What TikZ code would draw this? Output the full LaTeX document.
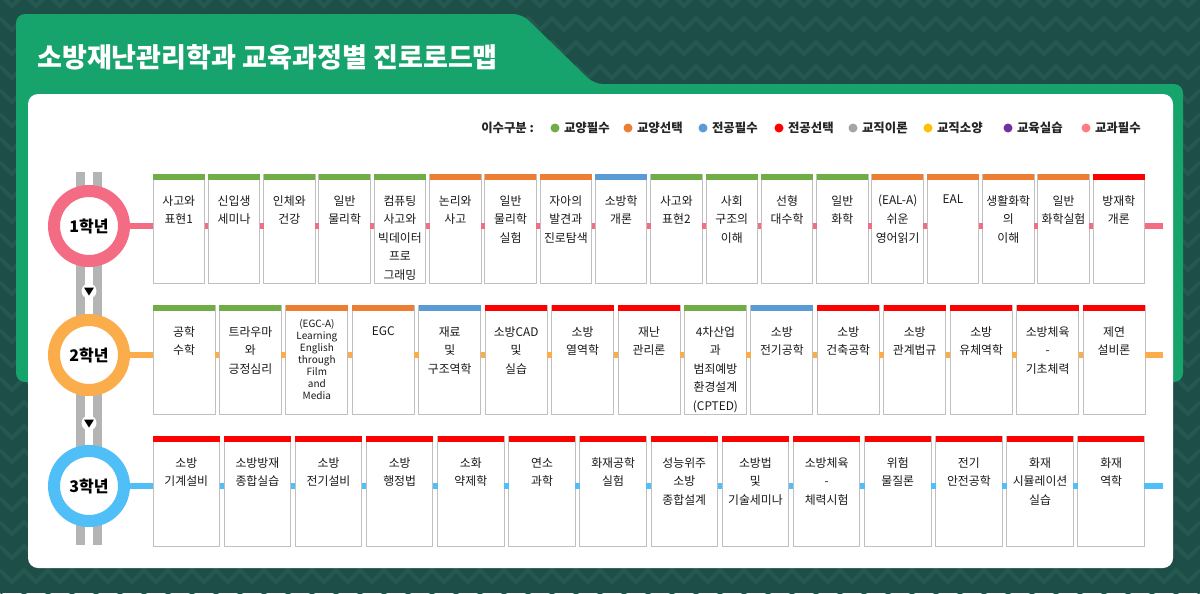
\documentclass[tikz,border=0pt]{standalone}
\usepackage{fontspec}
\setmainfont{Noto Sans CJK KR}
\usetikzlibrary{positioning}
\definecolor{bgteal}{RGB}{30,78,72}
\definecolor{bgline}{RGB}{36,88,80}
\definecolor{titlegreen}{RGB}{23,163,108}
\definecolor{yearpink}{RGB}{244,108,132}
\definecolor{yearorange}{RGB}{251,173,76}
\definecolor{yearblue}{RGB}{80,191,248}
\definecolor{railgray}{RGB}{180,180,180}
\definecolor{boxgray}{RGB}{192,192,192}
\definecolor{cgreen}{RGB}{112,173,71}
\definecolor{corange}{RGB}{237,125,49}
\definecolor{cblue}{RGB}{91,155,213}
\definecolor{cred}{RGB}{255,0,0}
\definecolor{cgray}{RGB}{165,165,165}
\definecolor{cyellow}{RGB}{255,192,0}
\definecolor{cpurple}{RGB}{112,48,160}
\definecolor{cpink}{RGB}{255,124,128}
\newcommand{\upx}{0.75pt}
\tikzset{
  coursebox/.style={draw=boxgray, line width=1*\upx, fill=white, anchor=north west,
                    inner sep=0pt, outer sep=0pt},
  coursetext/.style={anchor=north, align=center, inner sep=0pt, text=black!90,
                     font=\fontsize{8.9}{13.9}\selectfont},
  egctext/.style={coursetext, yshift=7*\upx, font=\fontsize{7.5}{9}\selectfont},
  yearring/.style={circle, draw=#1, line width=12*\upx, fill=white, minimum size=70*\upx,
                   inner sep=0pt, font=\bfseries\fontsize{12}{13}\selectfont},
  yearline/.style={#1, line width=6*\upx},
  legenddot/.style={circle, fill=#1, minimum size=9*\upx, inner sep=0pt},
  legendtext/.style={inner sep=0pt, text=black!85, font=\bfseries\fontsize{9.3}{11}\selectfont},
}
\begin{document}
\begin{tikzpicture}[x=0.75pt, y=-0.75pt]
  \useasboundingbox (0,0) rectangle (1200,593);
  \clip (0,0) rectangle (1200,593);

  % background and frame
  \fill[bgteal] (0,0) rectangle (1200,593);
  \foreach \r in {0,...,25}
    \draw[bgline, line width=4*\upx] (0,{\r*24-6})
      \foreach \k in {1,...,50} { -- ({24*\k-12},{\r*24+6}) -- ({24*\k},{\r*24-6}) };
  \fill[titlegreen, rounded corners=9*\upx] (16,382) -- (16,14) -- (522,14) -- (594,84)
    -- (1183,84) -- (1183,382) -- cycle;
  \fill[white, rounded corners=10*\upx] (28,94) rectangle (1173,568);
  \node[anchor=west, inner sep=0pt, text=white, font=\bfseries\fontsize{20.3}{22}\selectfont]
    (title) at (37,57) {소방재난관리학과 교육과정별 진로로드맵};

  % legend
  \node[legendtext, anchor=west] (lgd) at (481,128) {이수구분 :};
  \foreach \x/\c/\t in {555/cgreen/교양필수, 628/corange/교양선택, 703/cblue/전공필수,
                        779/cred/전공선택, 853/cgray/교직이론, 928/cyellow/교직소양,
                        1008/cpurple/교육실습, 1086/cpink/교과필수} {
    \node[legenddot=\c] (d\c) at (\x,128) {};
    \node[legendtext, right=4*\upx of d\c] {\t};
  }

  % rails and years
  \fill[railgray] (76,172) rectangle (85,545);
  \fill[railgray] (93,172) rectangle (102,545);
  \node[yearring=yearpink] (y1) at (89,226) {1학년};
  \node[yearring=yearorange] (y2) at (89,355) {2학년};
  \node[yearring=yearblue] (y3) at (89,486) {3학년};
  \foreach \m/\y in {m1/291, m2/423} {
    \node[circle, fill=white, minimum size=15*\upx, inner sep=0pt] (\m) at (89,\y) {};
    \fill[black] ([xshift=-5*\upx, yshift=3.5*\upx]\m.center) -- ([xshift=5*\upx, yshift=3.5*\upx]\m.center)
      -- ([yshift=-4.5*\upx]\m.center) -- cycle;
  }

  % 1st year
  \foreach [count=\i] \c/\f/\t in {cgreen/coursetext/{사고와\\표현1}, cgreen/coursetext/{신입생\\세미나},
      cgreen/coursetext/{인체와\\건강}, cgreen/coursetext/{일반\\물리학},
      cgreen/coursetext/{컴퓨팅\\사고와\\빅데이터\\프로\\그래밍}, corange/coursetext/{논리와\\사고},
      corange/coursetext/{일반\\물리학\\실험}, corange/coursetext/{자아의\\발견과\\진로탐색},
      cblue/coursetext/{소방학\\개론}, cgreen/coursetext/{사고와\\표현2},
      cgreen/coursetext/{사회\\구조의\\이해}, cgreen/coursetext/{선형\\대수학},
      cgreen/coursetext/{일반\\화학}, corange/coursetext/{(EAL-A)\\쉬운\\영어읽기},
      corange/coursetext/{EAL}, corange/coursetext/{생활화학\\의\\이해},
      corange/coursetext/{일반\\화학실험}, cred/coursetext/{방재학\\개론}} {
    \node[coursebox, minimum width=51.5*\upx, minimum height=109*\upx] (a\i) at ({153+55.3*(\i-1)},174) {};
    \fill[\c] (a\i.north west) rectangle ([yshift=-6*\upx]a\i.north east);
    \node[\f] at ([yshift=-21*\upx]a\i.north) {\t};
  }
  \draw[yearline=yearpink] (y1) -- (a1.west |- y1);
  \foreach \i [evaluate=\i as \j using int(\i+1)] in {1,...,17}
    \draw[yearline=yearpink] (a\i.east |- y1) -- (a\j.west |- y1);
  \coordinate (e1) at (1163,226);
  \draw[yearline=yearpink] (a18.east |- y1) -- (e1);

  % 2nd year
  \foreach [count=\i] \c/\f/\t in {cgreen/coursetext/{공학\\수학}, cgreen/coursetext/{트라우마\\와\\긍정심리},
      corange/egctext/{(EGC-A)\\Learning\\English\\through\\Film\\and\\Media}, corange/coursetext/{EGC},
      cblue/coursetext/{재료\\및\\구조역학}, cred/coursetext/{소방CAD\\및\\실습},
      cred/coursetext/{소방\\열역학}, cred/coursetext/{재난\\관리론},
      cgreen/coursetext/{4차산업\\과\\범죄예방\\환경설계\\(CPTED)}, cblue/coursetext/{소방\\전기공학},
      cred/coursetext/{소방\\건축공학}, cred/coursetext/{소방\\관계법규},
      cred/coursetext/{소방\\유체역학}, cred/coursetext/{소방체육\\-\\기초체력},
      cred/coursetext/{제연\\설비론}} {
    \node[coursebox, minimum width=62*\upx, minimum height=109*\upx] (b\i) at ({153+66.43*(\i-1)},305) {};
    \fill[\c] (b\i.north west) rectangle ([yshift=-6*\upx]b\i.north east);
    \node[\f] at ([yshift=-21*\upx]b\i.north) {\t};
  }
  \draw[yearline=yearorange] (y2) -- (b1.west |- y2);
  \foreach \i [evaluate=\i as \j using int(\i+1)] in {1,...,14}
    \draw[yearline=yearorange] (b\i.east |- y2) -- (b\j.west |- y2);
  \coordinate (e2) at (1163,355);
  \draw[yearline=yearorange] (b15.east |- y2) -- (e2);

  % 3rd year
  \foreach [count=\i] \t in {{소방\\기계설비}, {소방방재\\종합실습}, {소방\\전기설비}, {소방\\행정법},
      {소화\\약제학}, {연소\\과학}, {화재공학\\실험}, {성능위주\\소방\\종합설계},
      {소방법\\및\\기술세미나}, {소방체육\\-\\체력시험}, {위험\\물질론}, {전기\\안전공학},
      {화재\\시뮬레이션\\실습}, {화재\\역학}} {
    \node[coursebox, minimum width=66.5*\upx, minimum height=110*\upx] (c\i) at ({153+71.15*(\i-1)},436) {};
    \fill[cred] (c\i.north west) rectangle ([yshift=-6*\upx]c\i.north east);
    \node[coursetext] at ([yshift=-21*\upx]c\i.north) {\t};
  }
  \draw[yearline=yearblue] (y3) -- (c1.west |- y3);
  \foreach \i [evaluate=\i as \j using int(\i+1)] in {1,...,13}
    \draw[yearline=yearblue] (c\i.east |- y3) -- (c\j.west |- y3);
  \coordinate (e3) at (1163,486);
  \draw[yearline=yearblue] (c14.east |- y3) -- (e3);
\end{tikzpicture}
\end{document}
